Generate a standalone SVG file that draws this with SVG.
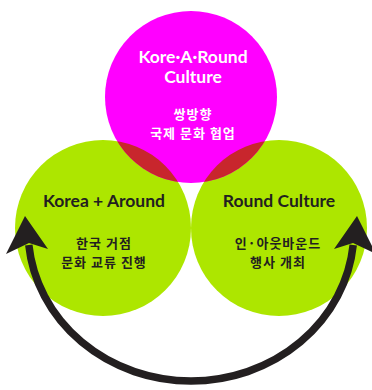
<svg xmlns="http://www.w3.org/2000/svg" width="372" height="390" viewBox="0 0 372 390">
<style>
.en{font-family:Lato,"Noto Sans","Liberation Sans",sans-serif;font-weight:700;font-size:17.5px;text-anchor:middle}
.ko{font-family:"Noto Sans CJK KR","Noto Sans",sans-serif;font-weight:700;font-size:13px;letter-spacing:1px;text-anchor:middle}
.w{fill:#ffffff}
.d{fill:#231f20}
.green{fill:#ade600}
.mag{fill:#ff00ff}
.red{fill:#c8262d}
.arc{fill:none;stroke:#231f20;stroke-width:7.5}
.head{fill:#231f20}
</style>
<defs>
<clipPath id="clipL"><circle cx="103" cy="228" r="88"/></clipPath>
<clipPath id="clipR"><circle cx="279" cy="228" r="88"/></clipPath>
</defs>
<g id="korea-around">
<circle class="green" cx="103" cy="228" r="88"/>
</g>
<g id="round-culture">
<circle class="green" cx="279" cy="228" r="88"/>
</g>
<g id="kore-a-round">
<circle class="mag" cx="191" cy="97" r="86"/>
<circle class="red" cx="191" cy="97" r="86" clip-path="url(#clipL)"/>
<circle class="red" cx="191" cy="97" r="86" clip-path="url(#clipR)"/>
<text class="en w" x="193" y="63">Kore·A·Round</text>
<text class="en w" x="193" y="83">Culture</text>
<text class="ko w" x="193" y="119">쌍방향</text>
<text class="ko w" x="193" y="138">국제 문화 협업</text>
</g>
<g id="korea-around-text">
<text class="en d" x="104" y="207">Korea + Around</text>
<text class="ko d" x="104" y="248">한국 거점</text>
<text class="ko d" x="104" y="267">문화 교류 진행</text>
</g>
<g id="round-culture-text">
<text class="en d" x="279" y="207">Round Culture</text>
<text class="ko d" x="278" y="248">인·아웃바운드</text>
<text class="ko d" x="278" y="267">행사 개최</text>
</g>
<g id="connectors">
<path class="arc" d="M 28.8,245 A 163 151 0 0 0 353.2,245"/>
<polygon class="head" points="25,216 48,249 29,243 6,254"/>
<polygon class="head" points="357,216 334,249 353,243 376,254"/>
</g>
</svg>
